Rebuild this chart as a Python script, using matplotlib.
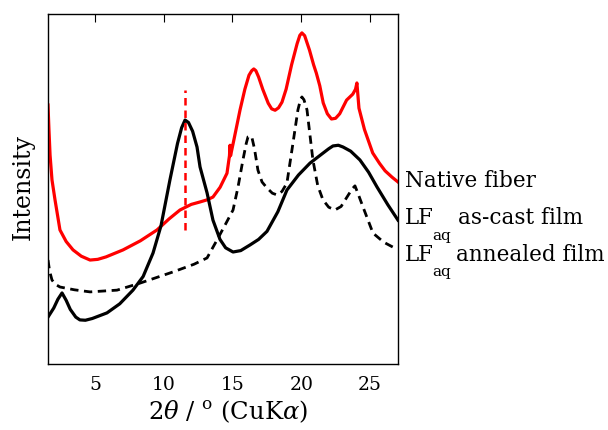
import matplotlib
matplotlib.use("Agg")
import matplotlib.pyplot as plt

plt.rcParams['font.family'] = ['DejaVu Serif']
plt.rcParams['mathtext.fontset'] = 'dejavuserif'

# Native fiber (red)
native_x = [1.58, 1.65, 1.73, 1.87, 2.09, 2.45, 2.9, 3.4, 4.0, 4.64, 5.2, 5.8, 7.04, 8.3, 9.51,
            10.4, 11.18, 12.0, 12.64, 13.15, 13.58, 14.1, 14.6, 14.78, 14.82, 14.86, 15.1,
            15.55, 15.9, 16.2, 16.4, 16.55, 16.7, 16.9, 17.2, 17.6, 17.85, 18.1, 18.35, 18.6,
            18.9, 19.3, 19.7, 19.9, 20.05, 20.25, 20.6, 20.9, 21.1, 21.35, 21.6, 21.9, 22.2,
            22.5, 22.8, 23.3, 23.75, 23.95, 24.05, 24.2, 24.6, 25.2, 25.7, 26.1, 26.6, 27.04]
native_y = [74.0, 66.9, 59.7, 52.6, 46.9, 38.3, 35.0, 32.6, 30.8, 29.7, 29.9, 30.6, 32.6, 35.2,
            38.3, 41.5, 44.0, 45.6, 46.3, 46.9, 47.7, 50.5, 54.5, 59.5, 62.5, 59.5, 64.0,
            72.6, 78.5, 82.5, 83.8, 84.3, 83.8, 82.0, 78.5, 74.5, 72.9, 72.5, 73.2, 74.8,
            78.5, 85.5, 91.5, 93.9, 94.6, 93.8, 89.7, 85.5, 83.1, 79.5, 74.6, 71.5, 70.0,
            70.2, 71.5, 75.4, 77.1, 78.5, 80.3, 73.1, 67.0, 60.3, 57.3, 55.2, 53.4, 52.0]

# LFaq as-cast film (black solid)
cast_x = [1.58, 2.0, 2.3, 2.6, 2.9, 3.2, 3.6, 3.9, 4.3, 4.8, 5.87, 6.8, 7.76, 8.5, 9.22, 9.8,
          10.45, 11.0, 11.3, 11.55, 11.8, 12.1, 12.42, 12.64, 13.15, 13.58, 14.09, 14.5,
          15.04, 15.6, 16.27, 16.9, 17.51, 18.3, 18.96, 19.8, 20.64, 21.5, 22.0, 22.31,
          22.7, 23.04, 23.6, 24.27, 24.9, 25.51, 26.3, 27.04]
cast_y = [13.4, 16.0, 18.5, 20.3, 18.2, 15.6, 13.4, 12.6, 12.5, 13.0, 14.6, 17.2, 21.1, 25.0,
          31.7, 39.5, 52.6, 63.0, 67.5, 69.7, 69.0, 66.5, 62.0, 56.3, 48.9, 41.1, 35.6, 33.2,
          32.0, 32.4, 34.0, 35.6, 37.9, 43.5, 49.7, 54.0, 57.4, 60.0, 61.5, 62.3, 62.5, 62.0,
          60.8, 58.3, 54.8, 50.6, 45.5, 41.1]

# LFaq annealed film (black dashed)
anneal_x = [1.58, 1.7, 1.87, 2.1, 2.45, 3.5, 4.64, 6.6, 8.27, 10.67, 12.2, 13.15, 13.87, 14.5,
            15.04, 15.4, 15.76, 16.0, 16.13, 16.3, 16.42, 16.6, 16.85, 17.15, 17.51, 17.9,
            18.24, 18.6, 18.96, 19.4, 19.76, 19.95, 20.05, 20.2, 20.42, 20.85, 21.2, 21.58,
            22.0, 22.45, 22.9, 23.33, 23.7, 23.91, 24.15, 24.49, 25.22, 26.0, 26.67, 27.04]
anneal_y = [29.7, 26.5, 24.0, 22.8, 22.0, 21.2, 20.6, 21.1, 23.1, 26.3, 28.5, 30.3, 35.4, 40.0,
            44.0, 50.5, 58.3, 63.0, 64.9, 65.2, 64.6, 61.5, 55.4, 52.0, 50.3, 48.8, 48.3, 49.3,
            51.7, 63.1, 72.6, 75.6, 76.3, 75.5, 72.6, 58.3, 51.0, 46.9, 44.8, 44.0, 45.0, 47.7,
            50.0, 50.9, 48.5, 44.9, 37.4, 34.8, 33.4, 33.1]

marker_x = 11.55
marker_y = [38.3, 78.3]

fig = plt.figure(figsize=(6.08, 4.30), dpi=100)
ax = fig.add_axes([48 / 608, 1 - 364 / 430, 350 / 608, 350 / 430])

ax.plot(native_x, native_y, color='#ff0000', lw=2.3)
ax.plot(cast_x, cast_y, color='black', lw=2.3)
ax.plot(anneal_x, anneal_y, color='black', lw=2.0, linestyle=(0, (3, 2)))
ax.plot([marker_x, marker_x], marker_y, color='#ff0000', lw=1.8, linestyle=(0, (3, 2)))

ax.set_xlim(1.58, 27.04)
ax.set_ylim(0, 100)
ax.set_xticks([5, 10, 15, 20, 25])
ax.set_yticks([])
ax.tick_params(axis='x', top=True, bottom=False, direction='in', length=6,
               labelsize=13.5, pad=9)
for s in ax.spines.values():
    s.set_linewidth(1.0)

fig.text(23 / 608, 1 - 187 / 430, 'Intensity', rotation=90, fontsize=17,
         ha='center', va='center')
fig.text(228 / 608, 1 - 412 / 430, r'2$\it{\theta}$ / $^{\rm o}$ (CuK$\it{\alpha}$)',
         fontsize=17.5, ha='center', va='center')

fs = 15.5
fig.text(405 / 608, 1 - 181 / 430, 'Native fiber', fontsize=fs, va='center')
fig.text(405 / 608, 1 - 218 / 430, 'LF', fontsize=fs, va='center')
fig.text(432 / 608, 1 - 236 / 430, 'aq', fontsize=11, va='center')
fig.text(458 / 608, 1 - 218 / 430, 'as-cast film', fontsize=fs, va='center')
fig.text(405 / 608, 1 - 255 / 430, 'LF', fontsize=fs, va='center')
fig.text(432 / 608, 1 - 272 / 430, 'aq', fontsize=11, va='center')
fig.text(456 / 608, 1 - 255 / 430, 'annealed film', fontsize=fs, va='center')

fig.savefig('out.png', dpi=100)
